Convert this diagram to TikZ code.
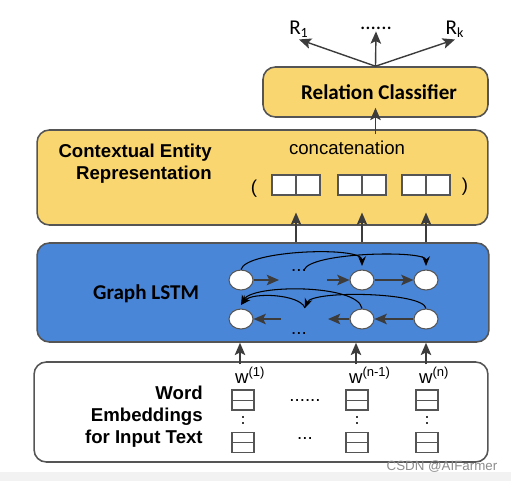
\documentclass[tikz,border=0pt]{standalone}
\usepackage{fontspec}
\setmainfont{Liberation Sans}
\newfontfamily\calibri{Carlito}
\usepackage{xcolor}
\usetikzlibrary{arrows.meta,shapes.geometric}

\definecolor{layeryellow}{RGB}{250,214,112}
\definecolor{layerblue}{RGB}{74,134,216}
\definecolor{edgegray}{RGB}{85,85,85}
\definecolor{arrowgray}{RGB}{60,60,60}
\definecolor{bandgray}{RGB}{242,242,242}

\tikzset{
  layer/.style={draw=edgegray, line width=0.9pt, rounded corners=7pt, inner sep=0pt},
  plain/.style={inner sep=1pt, font=\fontsize{10.6}{12.5}\selectfont},
  sidetext/.style={inner sep=0pt, align=right, font=\bfseries\fontsize{10.6}{12.5}\selectfont},
  headtext/.style={inner sep=0pt, font=\calibri\bfseries\fontsize{12}{14}\selectfont},
  rlab/.style={inner sep=1pt, font=\calibri\fontsize{12}{14}\selectfont},
  pairbox/.style={draw=edgegray, fill=white, line width=0.6pt, minimum width=0.96cm, minimum height=0.4cm, inner sep=0pt,
    path picture={\draw[edgegray, line width=0.6pt] (path picture bounding box.north) -- (path picture bounding box.south);}},
  embbox/.style={draw=edgegray, fill=white, line width=0.6pt, minimum width=0.44cm, minimum height=0.4cm, inner sep=0pt,
    path picture={\draw[edgegray, line width=0.5pt] (path picture bounding box.west) -- (path picture bounding box.east);}},
  cell/.style={ellipse, draw=edgegray, fill=white, line width=0.6pt, minimum width=0.48cm, minimum height=0.4cm, inner sep=0pt},
  arr/.style={draw=arrowgray, line width=0.8pt, -{Stealth[length=7pt,width=6pt,inset=1.5pt]}},
  curv/.style={draw=black, line width=0.6pt, -{Stealth[length=5.5pt,width=4.5pt]}},
  vdots/.style={draw=arrowgray, line width=1.3pt, dash pattern=on 1.3pt off 2.3pt, shorten <=3pt, shorten >=3pt},
}

\begin{document}
\begin{tikzpicture}[x=0.02cm,y=-0.02cm]
  \useasboundingbox (0,0) rectangle (511,481);
  \fill[bandgray] (0,472) rectangle (511,481);

  % layers
  \node[layer, fill=layeryellow, minimum width=4.5cm, minimum height=1cm] (rc) at (375.5,92) {};
  \node[layer, fill=layeryellow, minimum width=9.02cm, minimum height=1.9cm] (cer) at (262.5,177.5) {};
  \node[layer, fill=layerblue, minimum width=9.04cm, minimum height=1.98cm] (lstm) at (263,292.5) {};
  \node[layer, fill=white, minimum width=9.08cm, minimum height=2cm] (emb) at (261,412) {};

  \node[headtext] (rctext) at (379,92) {Relation Classifier};
  \node[sidetext, anchor=east] (certext) at (212,164) {Contextual Entity\\Representation};
  \node[headtext] (lstmtext) at (146,294) {Graph LSTM};
  \node[sidetext, anchor=east] (embtext) at (203,417) {Word\\Embeddings\\for Input Text};

  % relation outputs
  \node[rlab] (r1) at (299,29) {R\textsubscript{1}};
  \node[rlab] (rdots) at (376,28) {......};
  \node[rlab] (rk) at (455,29) {R\textsubscript{k}};
  \draw[arr] (rc.north) -- (r1.south);
  \draw[arr] (rc.north) -- (rdots.south);
  \draw[arr] (rc.north) -- (rk.south);

  % concatenation
  \node[plain] (concat) at (347,148) {concatenation};
  \draw[arr, shorten <=-0.1cm, shorten >=-0.2cm] (cer.north -| rc.south) -- (rc.south);
  \node[plain] (lpar) at (254,189) {(};
  \node[plain] (rpar) at (465,187) {)};
  \foreach \n/\x in {1/296,2/362,3/426}
    \node[pairbox] (p\n) at (\x,185) {};
  \foreach \n in {1,2,3}
    \draw[arr, shorten >=0.34cm] (lstm.north -| p\n) -- (p\n.south);

  % graph lstm cells
  \foreach \n/\x in {1/241,2/362,3/426} {
    \node[cell] (t\n) at (\x,280) {};
    \node[cell] (b\n) at (\x,319) {};
  }
  \node[plain] (tdots) at (299,270) {...};
  \node[plain] (bdots) at (299,333) {...};
  \coordinate (tl) at (279,280);
  \coordinate (tr) at (327,280);
  \coordinate (tc) at (304,270);
  \coordinate (br) at (328,319);
  \coordinate (bl) at (281,319);
  \coordinate (bc) at (305,308);
  \draw[arr] (t1) -- (tl);
  \draw[arr] (tr) -- (t2);
  \draw[arr] (t2) -- (t3);
  \draw[arr] (b3) -- (b2);
  \draw[arr] (b2) -- (br);
  \draw[arr] (bl) -- (b1);
  \draw[curv] (t1.north) .. controls (246,250) and (362,246) .. ([yshift=2pt]t2.north);
  \draw[curv] (tc) .. controls (310,252) and (426,250) .. ([yshift=2pt]t3.north);
  \draw[curv] (b2.north) .. controls (358,284) and (252,284) .. ([yshift=2pt]b1.north);
  \draw[curv] (b3.north) .. controls (424,292) and (312,290) .. (bc);
  \draw[curv] (bc) .. controls (300,294) and (252,292) .. ([yshift=2pt]b1.north);

  % word embeddings
  \foreach \n/\x in {1/243,2/357,3/427} {
    \node[embbox] (ea\n) at (\x,400) {};
    \node[embbox] (eb\n) at (\x,442.5) {};
    \draw[vdots] (ea\n) -- (eb\n);
  }
  \node[plain, anchor=base west] (w1) at (233,383) {w\textsuperscript{(1)}};
  \node[plain, anchor=base west] (w2) at (347,383) {w\textsuperscript{(n-1)}};
  \node[plain, anchor=base west] (w3) at (417,383) {w\textsuperscript{(n)}};
  \node[plain] (edots) at (305,400) {......};
  \node[plain] (fdots) at (305,438) {...};
  \draw[arr] ([xshift=-0.06cm]w1.north -| ea1) -- ([xshift=-0.06cm]lstm.south -| ea1);
  \draw[arr] ([xshift=-0.02cm]w2.north -| ea2) -- ([xshift=-0.02cm]lstm.south -| ea2);
  \draw[arr] ([xshift=-0.02cm]w3.north -| ea3) -- ([xshift=-0.02cm]lstm.south -| ea3);

  \node[inner sep=0pt, text=black!45, font=\fontsize{7.6}{9}\selectfont] (mark) at (442,467) {CSDN @AIFarmer};
\end{tikzpicture}
\end{document}
